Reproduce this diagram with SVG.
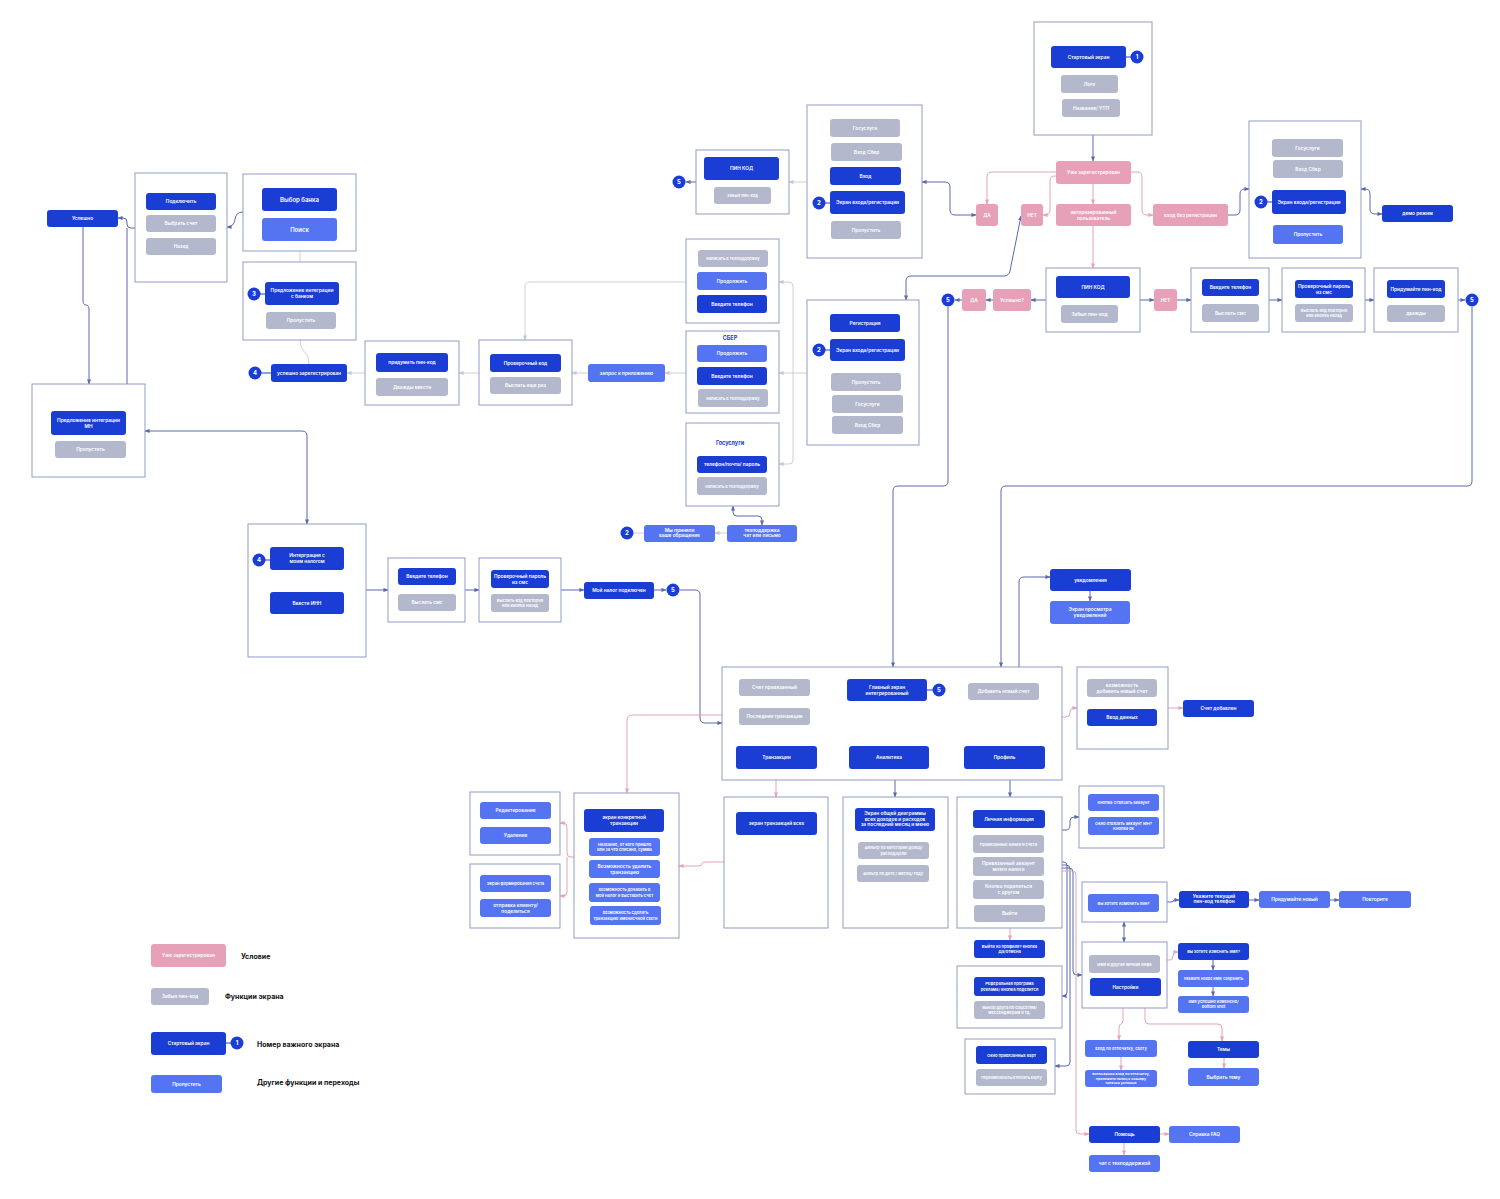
<svg xmlns="http://www.w3.org/2000/svg" width="1500" height="1199" viewBox="0 0 1500 1199">
<style>
.f{fill:#fff;stroke:#939bc6;stroke-width:1}
.d{fill:#1a3dd4}
.m{fill:#5474f2}
.g{fill:#b4b8cc}
.p{fill:#e6a0b8}
text{font-family:Inter,"Noto Sans",sans-serif;font-size:4.8px;fill:#fff;text-anchor:middle;font-weight:600}
.s{font-size:4.1px}
.b{font-size:6px}
.lg{fill:#111;font-size:7px;text-anchor:start;font-weight:700}
.h{fill:#1a3dd4;font-size:5.5px;font-weight:700}
.c{fill:none;stroke:#5a69ad;stroke-width:1}
.cp{fill:none;stroke:#e4a3b8;stroke-width:1}
.cl{fill:none;stroke:#cdd0db;stroke-width:1}
.k{stroke:#1a3dd4;stroke-width:1}
.n{font-size:6px;font-weight:700}
</style>
<defs>
<marker id="ab" viewBox="0 0 6 6" refX="5.5" refY="3" markerWidth="5" markerHeight="5" orient="auto-start-reverse"><path d="M0,0.5 L6,3 L0,5.5z" fill="#5a69ad"/></marker>
<marker id="ap" viewBox="0 0 6 6" refX="5.5" refY="3" markerWidth="5" markerHeight="5" orient="auto-start-reverse"><path d="M0,0.5 L6,3 L0,5.5z" fill="#e4a3b8"/></marker>
<marker id="al" viewBox="0 0 6 6" refX="5.5" refY="3" markerWidth="5" markerHeight="5" orient="auto-start-reverse"><path d="M0,0.5 L6,3 L0,5.5z" fill="#c4c8d6"/></marker>
</defs>

<g id="connectors">
<path class="c" d="M1093,135 V161" marker-end="url(#ab)"/>
<path class="cp" d="M1056,172 H992 Q987,172 987,177 V204" marker-end="url(#ap)"/>
<path class="cp" d="M1056,176 H1055 Q1050,176 1050,181 V210 Q1050,215 1045,215 H1043" marker-end="url(#ap)"/>
<path class="cp" d="M1093,184 V204" marker-end="url(#ap)"/>
<path class="cp" d="M1131,172 H1137 Q1142,172 1142,177 V210 Q1142,215 1147,215 H1153" marker-end="url(#ap)"/>
<path class="cp" d="M1093,226 V268" marker-end="url(#ap)"/>
<path class="c" d="M1228,215 H1235 Q1240,215 1240,210 V194 Q1240,189 1245,189 H1249" marker-end="url(#ab)"/>
<path class="c" d="M1361,189 H1365 Q1370,189 1370,194 V209 Q1370,214 1375,214 H1382" marker-end="url(#ab)" marker-start="url(#ab)"/>
<path class="c" d="M1046,300 H1031" marker-end="url(#ab)"/>
<path class="c" d="M993,300 H986" marker-end="url(#ab)"/>
<path class="c" d="M962,300 H955" marker-end="url(#ab)"/>
<path class="c" d="M1140,300 H1154" marker-end="url(#ab)"/>
<path class="c" d="M1177,300 H1191" marker-end="url(#ab)"/>
<path class="c" d="M1269,300 H1282" marker-end="url(#ab)"/>
<path class="c" d="M1365,300 H1374" marker-end="url(#ab)"/>
<path class="c" d="M1458,300 H1465" marker-end="url(#ab)"/>
<path class="c" d="M1472,307 V481 Q1472,486 1467,486 H1006 Q1001,486 1001,491 V667" marker-end="url(#ab)"/>
<path class="c" d="M948,307 V481 Q948,486 943,486 H898 Q893,486 893,491 V667" marker-end="url(#ab)"/>
<path class="c" d="M1021,216 L1010,271 Q1009,276 1004,276 H911 Q906,276 906,281 V300" marker-end="url(#ab)" marker-start="url(#ab)"/>
<path class="c" d="M976,215 H955 Q950,215 950,210 V187 Q950,182 945,182 H922" marker-end="url(#ab)" marker-start="url(#ab)"/>
<path class="cl" d="M807,182 H789" marker-end="url(#al)"/>
<path class="c" d="M696,182 H686" marker-end="url(#ab)"/>
<path class="cl" d="M807,373 H779" marker-end="url(#al)"/>
<path class="cl" d="M793,286 V460"/>
<path class="cl" d="M793,286 Q793,282 789,282 H779" marker-end="url(#al)"/>
<path class="cl" d="M793,460 Q793,464 789,464 H779" marker-end="url(#al)"/>
<path class="cl" d="M686,373 H665" marker-end="url(#al)"/>
<path class="cl" d="M588,373 H572" marker-end="url(#al)"/>
<path class="cl" d="M686,282 H530 Q525,282 525,287 V340" marker-end="url(#al)"/>
<path class="cl" d="M479,373 H459" marker-end="url(#al)"/>
<path class="cl" d="M365,373 H347" marker-end="url(#al)"/>
<path class="cl" d="M309,364 C309,351 300,353 300,340"/>
<path class="cl" d="M300,262 V251"/>
<path class="c" d="M243,212 Q236,212 235,219 Q234,227 227,227" marker-end="url(#ab)"/>
<path class="c" d="M135,228 H131 Q127,228 127,224 V222 Q127,218 123,218 H118" marker-end="url(#ab)"/>
<path class="c" d="M127,228 V393" marker-end="url(#ab)"/>
<path class="c" d="M83,227 V300 Q83,305 86,305 Q89,305 89,310 V384" marker-end="url(#ab)"/>
<path class="c" d="M145,431 H302 Q307,431 307,436 V524" marker-end="url(#ab)" marker-start="url(#ab)"/>
<path class="c" d="M366,590 H388" marker-end="url(#ab)"/>
<path class="c" d="M465,590 H479" marker-end="url(#ab)"/>
<path class="c" d="M561,590 H584" marker-end="url(#ab)"/>
<path class="c" d="M654,590 H666" marker-end="url(#ab)"/>
<path class="c" d="M680,590 H695 Q700,590 700,595 V718 Q700,723 705,723 H722" marker-end="url(#ab)"/>
<path class="cp" d="M722,715 H632 Q627,715 627,720 V793" marker-end="url(#ap)"/>
<path class="c" d="M1019,667 V582 Q1019,577 1024,577 H1050" marker-end="url(#ab)"/>
<path class="c" d="M1090,591 V601" marker-end="url(#ab)"/>
<path class="cp" d="M1062,717 H1066 Q1070,717 1070,713 Q1070,708 1074,708 H1077" marker-end="url(#ap)"/>
<path class="cp" d="M1168,708 H1183" marker-end="url(#ap)"/>
<path class="cp" d="M776,780 V797" marker-end="url(#ap)"/>
<path class="c" d="M895,780 V797" marker-end="url(#ab)"/>
<path class="c" d="M1010,780 V797" marker-end="url(#ab)"/>
<path class="cp" d="M724,862 H706 Q702,862 702,864 Q702,866 698,866 H679" marker-end="url(#ap)"/>
<path class="cp" d="M574,857 H571 Q567,857 567,853 V827 Q567,823 563,823 H560" marker-end="url(#ap)"/>
<path class="cp" d="M567,857 V892 Q567,896 563,896 H560" marker-end="url(#ap)"/>
<path class="c" d="M1062,830 H1066 Q1070,830 1070,825 V821 Q1070,817 1074,817 H1079" marker-end="url(#ab)"/>
<path class="cp" d="M1010,928 V940" marker-end="url(#ap)"/>
<path class="c" d="M1062,862 H1064 Q1067,862 1067,866 V992 Q1067,996 1063,996 H1062" marker-end="url(#ab)"/>
<path class="c" d="M1062,865 H1066 Q1070,865 1070,869 V1062 Q1070,1066 1066,1066 H1055" marker-end="url(#ab)"/>
<path class="c" d="M1062,868 H1069 Q1073,868 1073,872 V971 Q1073,975 1077,975 H1082" marker-end="url(#ab)"/>
<path class="cp" d="M1062,871 H1072 Q1076,871 1076,875 V1130 Q1076,1134 1080,1134 H1089" marker-end="url(#ap)"/>
<path class="c" d="M1124,942 V922" marker-end="url(#ab)" marker-start="url(#ab)"/>
<path class="c" d="M1167,902 H1171 Q1174,902 1174,900 H1179" marker-end="url(#ab)"/>
<path class="c" d="M1249,900 H1259" marker-end="url(#ab)"/>
<path class="c" d="M1330,900 H1339" marker-end="url(#ab)"/>
<path class="cp" d="M1167,960 H1170 Q1173,960 1173,956 Q1173,952 1177,952 H1178" marker-end="url(#ap)"/>
<path class="c" d="M1213,960 V970" marker-end="url(#ab)"/>
<path class="c" d="M1213,987 V996" marker-end="url(#ab)"/>
<path class="cp" d="M1123,1008 V1020 Q1123,1024 1121,1024 Q1119,1024 1119,1028 V1040" marker-end="url(#ap)"/>
<path class="cp" d="M1145,1008 V1020 Q1145,1024 1149,1024 H1218 Q1222,1024 1222,1028 V1041" marker-end="url(#ap)"/>
<path class="cp" d="M1121,1057 V1070" marker-end="url(#ap)"/>
<path class="cp" d="M1224,1058 V1068" marker-end="url(#ap)"/>
<path class="cp" d="M1160,1134 H1169" marker-end="url(#ap)"/>
<path class="cp" d="M1124,1143 V1155" marker-end="url(#ap)"/>
<path class="c" d="M733,506 V512 Q733,516 737,516 H758 Q762,516 762,520 V525" marker-end="url(#ab)" marker-start="url(#ab)"/>
<path class="cl" d="M727,533 H715" marker-end="url(#al)"/>
<path class="cl" d="M644,533 H634"/>
</g>

<g id="start-screen">
<rect class="f" x="1034" y="22" width="118" height="113"/>
<rect class="d" x="1051" y="46" width="75" height="22" rx="3"/><text x="1088.5" y="58.8">Стартовый экран</text>
<rect class="g" x="1061" y="75" width="57" height="18" rx="3"/><text x="1089.5" y="85.8">Лого</text>
<rect class="g" x="1062" y="99" width="58" height="18" rx="3"/><text x="1091" y="109.8">Название/ УТП</text>
<line class="k" x1="1126" y1="57" x2="1131" y2="57"/><circle class="d" cx="1137" cy="57" r="6.5"/><text class="n" x="1137" y="59.2">1</text>
</g>
<g id="cond-registered"><rect class="p" x="1056" y="161" width="75" height="23" rx="3"/><text x="1093.5" y="174.3">Уже зарегистрирован</text></g>
<g id="cond-yes-top"><rect class="p" x="976" y="204" width="22" height="22" rx="3"/><text x="987" y="216.8">ДА</text></g>
<g id="cond-no-top"><rect class="p" x="1021" y="204" width="22" height="22" rx="3"/><text x="1032" y="216.8">НЕТ</text></g>
<g id="cond-authorized"><rect class="p" x="1056" y="204" width="75" height="22" rx="3"/><text x="1093.5" y="213.6">авторизированный</text><text x="1093.5" y="219.6">пользователь</text></g>
<g id="cond-noreg"><rect class="p" x="1153" y="204" width="75" height="22" rx="3"/><text x="1190.5" y="216.8">вход без регистрации</text></g>

<g id="login-right">
<rect class="f" x="1249" y="121" width="112" height="137"/>
<rect class="g" x="1272" y="139" width="71" height="18" rx="3"/><text x="1307.5" y="149.8">Госуслуги</text>
<rect class="g" x="1273" y="160" width="70" height="18" rx="3"/><text x="1308" y="170.8">Вход Сбер</text>
<rect class="d" x="1272" y="190" width="74" height="24" rx="3"/><text x="1309" y="203.8">Экран входа/регистрации</text>
<line class="k" x1="1266" y1="202" x2="1272" y2="202"/><circle class="d" cx="1261" cy="202" r="6.5"/><text class="n" x="1261" y="204.2">2</text>
<rect class="m" x="1273" y="225" width="70" height="19" rx="3"/><text x="1308" y="236.3">Пропустить</text>
</g>
<g id="demo"><rect class="d" x="1382" y="205" width="71" height="17" rx="3"/><text x="1417.5" y="215.3">демо режим</text></g>

<g id="pin-right">
<rect class="f" x="1046" y="268" width="94" height="64"/>
<rect class="d" x="1056" y="276" width="74" height="22" rx="3"/><text x="1093" y="288.8">ПИН КОД</text>
<rect class="g" x="1061" y="305" width="57" height="18" rx="3"/><text x="1089.5" y="315.8">Забыл пин-код</text>
</g>
<g id="cond-success"><rect class="p" x="993" y="289" width="38" height="22" rx="3"/><text x="1012" y="301.8">Успешно?</text></g>
<g id="cond-yes-mid"><rect class="p" x="962" y="289" width="24" height="22" rx="3"/><text x="974" y="301.8">ДА</text></g>
<g id="badge5-a"><circle class="d" cx="948" cy="300" r="6.5"/><text class="n" x="948" y="302.2">5</text></g>
<g id="cond-no-mid"><rect class="p" x="1154" y="289" width="23" height="22" rx="3"/><text x="1165.5" y="301.8">НЕТ</text></g>
<g id="phone-right">
<rect class="f" x="1191" y="268" width="78" height="64"/>
<rect class="d" x="1202" y="279" width="57" height="17" rx="3"/><text x="1230.5" y="289.3">Введите телефон</text>
<rect class="g" x="1202" y="304" width="57" height="18" rx="3"/><text x="1230.5" y="314.8">Выслать смс</text>
</g>
<g id="sms-right">
<rect class="f" x="1282" y="268" width="83" height="64"/>
<rect class="d" x="1295" y="280" width="58" height="18" rx="3"/><text x="1324" y="287.8">Проверочный пароль</text><text x="1324" y="293.6">из смс</text>
<rect class="g" x="1295" y="304" width="58" height="18" rx="3"/><text class="s" x="1324" y="311.8">Выслать код повторно</text><text class="s" x="1324" y="317.2">или кнопка назад</text>
</g>
<g id="newpin-right">
<rect class="f" x="1374" y="268" width="84" height="64"/>
<rect class="d" x="1387" y="280" width="58" height="18" rx="3"/><text x="1416" y="290.8">Придумайте пин-код</text>
<rect class="g" x="1387" y="305" width="58" height="17" rx="3"/><text x="1416" y="315.3">дважды</text>
</g>
<g id="badge5-b"><circle class="d" cx="1472" cy="300" r="6.5"/><text class="n" x="1472" y="302.2">5</text></g>

<g id="login-mid">
<rect class="f" x="807" y="105" width="115" height="153"/>
<rect class="g" x="830" y="119" width="70" height="18" rx="3"/><text x="865" y="129.8">Госуслуги</text>
<rect class="g" x="831" y="143" width="71" height="18" rx="3"/><text x="866.5" y="153.8">Вход Сбер</text>
<rect class="d" x="830" y="167" width="71" height="18" rx="3"/><text x="865.5" y="177.8">Вход</text>
<rect class="d" x="830" y="191" width="75" height="23" rx="3"/><text x="867.5" y="204.3">Экран входа/регистрации</text>
<line class="k" x1="824" y1="203" x2="830" y2="203"/><circle class="d" cx="819" cy="203" r="6.5"/><text class="n" x="819" y="205.2">2</text>
<rect class="g" x="831" y="221" width="70" height="18" rx="3"/><text x="866" y="231.8">Пропустить</text>
</g>
<g id="pin-mid">
<rect class="f" x="696" y="150" width="93" height="64"/>
<rect class="d" x="704" y="157" width="75" height="23" rx="3"/><text x="741.5" y="170.3">ПИН КОД</text>
<rect class="g" x="714" y="187" width="57" height="17" rx="3"/><text class="s" x="742.5" y="197">Забыл пин-код</text>
</g>
<g id="badge5-c"><circle class="d" cx="679" cy="182" r="6.5"/><text class="n" x="679" y="184.2">5</text></g>

<g id="register">
<rect class="f" x="807" y="300" width="112" height="145"/>
<rect class="d" x="830" y="314" width="70" height="18" rx="3"/><text x="865" y="324.8">Регистрация</text>
<rect class="d" x="830" y="339" width="75" height="22" rx="3"/><text x="867.5" y="351.8">Экран входа/регистрации</text>
<line class="k" x1="824" y1="350" x2="830" y2="350"/><circle class="d" cx="819" cy="350" r="6.5"/><text class="n" x="819" y="352.2">2</text>
<rect class="g" x="831" y="373" width="70" height="18" rx="3"/><text x="866" y="383.8">Пропустить</text>
<rect class="g" x="832" y="395" width="71" height="18" rx="3"/><text x="867.5" y="405.8">Госуслуги</text>
<rect class="g" x="832" y="416" width="71" height="18" rx="3"/><text x="867.5" y="426.8">Вход Сбер</text>
</g>

<g id="reg-phone">
<rect class="f" x="686" y="239" width="93" height="84"/>
<rect class="g" x="698" y="250" width="70" height="17" rx="3"/><text class="s" x="733" y="260">написать в техподдержку</text>
<rect class="m" x="697" y="272" width="70" height="18" rx="3"/><text x="732" y="282.8">Продолжить</text>
<rect class="d" x="697" y="295" width="70" height="18" rx="3"/><text x="732" y="305.8">Введите телефон</text>
</g>
<g id="reg-sber">
<rect class="f" x="686" y="331" width="93" height="82"/>
<text class="h" x="730" y="340">СБЕР</text>
<rect class="m" x="697" y="345" width="70" height="17" rx="3"/><text x="732" y="355.3">Продолжить</text>
<rect class="d" x="697" y="367" width="70" height="18" rx="3"/><text x="732" y="377.8">Введите телефон</text>
<rect class="g" x="698" y="389" width="70" height="18" rx="3"/><text class="s" x="733" y="399.5">написать в техподдержку</text>
</g>
<g id="reg-gosuslugi">
<rect class="f" x="686" y="423" width="93" height="83"/>
<text class="h" x="730" y="445">Госуслуги</text>
<rect class="d" x="697" y="456" width="70" height="17" rx="3"/><text x="732" y="466.3">телефон/почта/ пароль</text>
<rect class="g" x="697" y="477" width="70" height="18" rx="3"/><text class="s" x="732" y="487.5">написать в техподдержку</text>
</g>
<g id="support-accepted">
<circle class="d" cx="627" cy="533" r="6.5"/><text class="n" x="627" y="535.2">2</text>
<rect class="m" x="644" y="525" width="71" height="17" rx="3"/><text x="679.5" y="531.5">Мы приняли</text><text x="679.5" y="537.3">ваше обращение</text>
</g>
<g id="support"><rect class="m" x="727" y="525" width="70" height="17" rx="3"/><text x="762" y="531.5">техподдержка</text><text x="762" y="537.3">чат или письмо</text></g>

<g id="app-request"><rect class="m" x="588" y="364" width="77" height="18" rx="3"/><text x="626.5" y="374.8">запрос к приложению</text></g>
<g id="check-code">
<rect class="f" x="479" y="340" width="93" height="65"/>
<rect class="d" x="490" y="354" width="71" height="18" rx="3"/><text x="525.5" y="364.8">Проверочный код</text>
<rect class="g" x="490" y="377" width="71" height="17" rx="3"/><text x="525.5" y="387.3">Выслать еще раз</text>
</g>
<g id="create-pin">
<rect class="f" x="365" y="341" width="94" height="64"/>
<rect class="d" x="376" y="353" width="72" height="19" rx="3"/><text x="412" y="364.3">придумать пин-код</text>
<rect class="g" x="376" y="378" width="72" height="18" rx="3"/><text x="412" y="388.8">Дважды ввести</text>
</g>
<g id="registered-ok">
<rect class="d" x="271" y="364" width="76" height="18" rx="3"/><text x="309" y="374.8">успешно зарегистрирован</text>
<line class="k" x1="261" y1="373" x2="271" y2="373"/><circle class="d" cx="255" cy="373" r="6.5"/><text class="n" x="255" y="375.2">4</text>
</g>
<g id="bank-offer">
<rect class="f" x="243" y="262" width="113" height="78"/>
<rect class="d" x="265" y="282" width="74" height="23" rx="3"/><text x="302" y="292">Предложение интеграции</text><text x="302" y="298">с банком</text>
<line class="k" x1="260" y1="294" x2="265" y2="294"/><circle class="d" cx="254" cy="294" r="6.5"/><text class="n" x="254" y="296.2">3</text>
<rect class="g" x="266" y="312" width="70" height="17" rx="3"/><text x="301" y="322.3">Пропустить</text>
</g>
<g id="bank-choice">
<rect class="f" x="243" y="174" width="113" height="77"/>
<rect class="d" x="262" y="188" width="75" height="23" rx="3"/><text class="b" x="299.5" y="201.6">Выбор банка</text>
<rect class="m" x="262" y="218" width="75" height="23" rx="3"/><text class="b" x="299.5" y="231.6">Поиск</text>
</g>
<g id="connect">
<rect class="f" x="135" y="173" width="92" height="109"/>
<rect class="d" x="146" y="193" width="70" height="17" rx="3"/><text x="181" y="203.3">Подключить</text>
<rect class="g" x="146" y="215" width="70" height="17" rx="3"/><text x="181" y="225.3">Выбрать счет</text>
<rect class="g" x="146" y="238" width="70" height="17" rx="3"/><text x="181" y="248.3">Назад</text>
</g>
<g id="success-left"><rect class="d" x="47" y="210" width="71" height="17" rx="3"/><text x="82.5" y="220.3">Успешно</text></g>
<g id="mn-offer">
<rect class="f" x="32" y="384" width="113" height="93"/>
<rect class="d" x="51" y="411" width="75" height="24" rx="3"/><text x="88.5" y="421.5">Предложение интеграции</text><text x="88.5" y="427.5">МН</text>
<rect class="g" x="55" y="441" width="71" height="17" rx="3"/><text x="90.5" y="451.3">Пропустить</text>
</g>

<g id="tax-integration">
<rect class="f" x="248" y="524" width="118" height="133"/>
<rect class="d" x="270" y="547" width="74" height="23" rx="3"/><text x="307" y="557">Интерграция с</text><text x="307" y="563">моим налогом</text>
<line class="k" x1="265" y1="560" x2="270" y2="560"/><circle class="d" cx="259" cy="560" r="6.5"/><text class="n" x="259" y="562.2">4</text>
<rect class="d" x="270" y="592" width="74" height="22" rx="3"/><text x="307" y="604.8">Ввести ИНН</text>
</g>
<g id="tax-phone">
<rect class="f" x="388" y="558" width="77" height="64"/>
<rect class="d" x="398" y="568" width="58" height="17" rx="3"/><text x="427" y="578.3">Введите телефон</text>
<rect class="g" x="398" y="594" width="58" height="17" rx="3"/><text x="427" y="604.3">Выслать смс</text>
</g>
<g id="tax-sms">
<rect class="f" x="479" y="558" width="82" height="64"/>
<rect class="d" x="491" y="570" width="58" height="18" rx="3"/><text x="520" y="577.8">Проверочный пароль</text><text x="520" y="583.6">из смс</text>
<rect class="g" x="491" y="594" width="58" height="18" rx="3"/><text class="s" x="520" y="601.8">Выслать код повторно</text><text class="s" x="520" y="607.2">или кнопка назад</text>
</g>
<g id="tax-connected">
<rect class="d" x="584" y="582" width="70" height="17" rx="3"/><text x="619" y="592.3">Мой налог подключен</text>
<circle class="d" cx="673" cy="590" r="6.5"/><text class="n" x="673" y="592.2">5</text>
</g>

<g id="notifications"><rect class="d" x="1050" y="569" width="81" height="22" rx="3"/><text x="1090.5" y="581.8">уведомления</text></g>
<g id="notif-view"><rect class="m" x="1050" y="601" width="80" height="23" rx="3"/><text x="1090" y="611">Экран просмотра</text><text x="1090" y="617">уведомлений</text></g>

<g id="main-screen">
<rect class="f" x="722" y="667" width="340" height="113"/>
<rect class="g" x="739" y="679" width="71" height="17" rx="3"/><text x="774.5" y="689.3">Счет привязанный</text>
<rect class="g" x="739" y="708" width="71" height="17" rx="3"/><text x="774.5" y="718.3">Последние транзакции</text>
<rect class="d" x="847" y="679" width="80" height="22" rx="3"/><text x="887" y="688.6">Главный экран</text><text x="887" y="694.6">интегрированный</text>
<line class="k" x1="927" y1="690" x2="933" y2="690"/><circle class="d" cx="939" cy="690" r="6.5"/><text class="n" x="939" y="692.2">5</text>
<rect class="g" x="968" y="683" width="71" height="17" rx="3"/><text x="1003.5" y="693.3">Добавить новый счет</text>
<rect class="d" x="736" y="746" width="81" height="23" rx="3"/><text x="776.5" y="759.3">Транзакции</text>
<rect class="d" x="849" y="746" width="80" height="23" rx="3"/><text x="889" y="759.3">Аналитика</text>
<rect class="d" x="964" y="746" width="81" height="23" rx="3"/><text x="1004.5" y="759.3">Профиль</text>
</g>
<g id="add-account">
<rect class="f" x="1077" y="667" width="91" height="82"/>
<rect class="g" x="1087" y="679" width="70" height="18" rx="3"/><text x="1122" y="686.8">возможность</text><text x="1122" y="692.6">добавить новый счет</text>
<rect class="d" x="1087" y="709" width="70" height="17" rx="3"/><text x="1122" y="719.3">Ввод данных</text>
</g>
<g id="account-added"><rect class="d" x="1183" y="700" width="71" height="17" rx="3"/><text x="1218.5" y="710.3">Счет добавлен</text></g>

<g id="all-transactions">
<rect class="f" x="724" y="797" width="104" height="131"/>
<rect class="d" x="736" y="812" width="81" height="23" rx="3"/><text x="776.5" y="825.3">экран  транзакций всех</text>
</g>
<g id="analytics">
<rect class="f" x="843" y="797" width="105" height="131"/>
<rect class="d" x="855" y="808" width="80" height="23" rx="3"/><text x="895" y="815">Экран общей диаграммы</text><text x="895" y="820.6">всех доходов и расходов</text><text x="895" y="826.2">за последний месяц и меню</text>
<rect class="g" x="858" y="842" width="71" height="17" rx="3"/><text class="s" x="893.5" y="849.4">Фильтр по категории доход/</text><text class="s" x="893.5" y="854.6">расход/цели</text>
<rect class="g" x="857" y="865" width="72" height="17" rx="3"/><text class="s" x="893" y="875">Фильтр по дате / месяц/ году</text>
</g>
<g id="profile">
<rect class="f" x="957" y="797" width="105" height="131"/>
<rect class="d" x="973" y="810" width="72" height="18" rx="3"/><text x="1009" y="820.8">Личная информация</text>
<rect class="g" x="973" y="835" width="71" height="18" rx="3"/><text class="s" x="1008.5" y="845.5">Привязанные банки и счета</text>
<rect class="g" x="973" y="857" width="71" height="19" rx="3"/><text x="1008.5" y="865">Привязанный аккаунт</text><text x="1008.5" y="870.8">моего налога</text>
<rect class="g" x="973" y="880" width="71" height="19" rx="3"/><text x="1008.5" y="888">Кнопка поделиться</text><text x="1008.5" y="893.8">с другом</text>
<rect class="g" x="974" y="905" width="71" height="17" rx="3"/><text x="1009.5" y="915.3">Выйти</text>
</g>

<g id="transaction">
<rect class="f" x="574" y="793" width="105" height="145"/>
<rect class="d" x="584" y="809" width="80" height="23" rx="3"/><text x="624" y="819">экран  конкретной</text><text x="624" y="825">транзакции</text>
<rect class="m" x="589" y="838" width="71" height="18" rx="3"/><text class="s" x="624.5" y="845.8">Название, от кого пришло</text><text class="s" x="624.5" y="851.2">или за что списано, сумма</text>
<rect class="m" x="589" y="860" width="71" height="18" rx="3"/><text x="624.5" y="867.8">Возможность удалить</text><text x="624.5" y="873.6">транзакцию</text>
<rect class="m" x="589" y="883" width="71" height="19" rx="3"/><text class="s" x="624.5" y="891.3">возможность добавить в</text><text class="s" x="624.5" y="896.7">мой налог и выставить счет</text>
<rect class="m" x="590" y="906" width="71" height="19" rx="3"/><text class="s" x="625.5" y="914.3">возможность сделать</text><text class="s" x="625.5" y="919.7">транзакцию именисчной свеги</text>
</g>
<g id="edit-delete">
<rect class="f" x="470" y="792" width="90" height="63"/>
<rect class="m" x="480" y="802" width="71" height="17" rx="3"/><text x="515.5" y="812.3">Редактирование</text>
<rect class="m" x="480" y="827" width="71" height="17" rx="3"/><text x="515.5" y="837.3">Удаление</text>
</g>
<g id="invoice">
<rect class="f" x="470" y="864" width="90" height="64"/>
<rect class="m" x="480" y="875" width="71" height="17" rx="3"/><text class="s" x="515.5" y="885">Экран формирования счета</text>
<rect class="m" x="480" y="899" width="71" height="18" rx="3"/><text x="515.5" y="906.8">отправка клиенту/</text><text x="515.5" y="912.6">поделиться</text>
</g>

<g id="unlink">
<rect class="f" x="1079" y="786" width="85" height="62"/>
<rect class="m" x="1088" y="794" width="71" height="17" rx="3"/><text class="s" x="1123.5" y="804">Кнопка Отвязать аккаунт</text>
<rect class="m" x="1088" y="817" width="71" height="18" rx="3"/><text class="s" x="1123.5" y="824.8">Окно отвязать аккаунт МН?</text><text class="s" x="1123.5" y="830.2">Кнопка ок</text>
</g>
<g id="change-pin">
<rect class="f" x="1082" y="882" width="85" height="40"/>
<rect class="m" x="1088" y="894" width="71" height="18" rx="3"/><text class="s" x="1123.5" y="904.5">Вы хотите изменить пин?</text>
</g>
<g id="current-pin"><rect class="d" x="1179" y="891" width="70" height="17" rx="3"/><text x="1214" y="897.5">Укажите текущий</text><text x="1214" y="903.3">пин-код телефон</text></g>
<g id="new-pin"><rect class="m" x="1259" y="891" width="71" height="17" rx="3"/><text x="1294.5" y="901.3">Придумайте новый</text></g>
<g id="repeat-pin"><rect class="m" x="1339" y="891" width="72" height="17" rx="3"/><text x="1375" y="901.3">Повторите</text></g>

<g id="personal">
<rect class="f" x="1082" y="942" width="85" height="66"/>
<rect class="g" x="1089" y="955" width="71" height="18" rx="3"/><text class="s" x="1124.5" y="965.5">Имя и другая личная инфа</text>
<rect class="d" x="1090" y="978" width="71" height="18" rx="3"/><text x="1125.5" y="988.8">Настройки</text>
</g>
<g id="change-name"><rect class="d" x="1178" y="943" width="71" height="17" rx="3"/><text class="s" x="1213.5" y="953">Вы хотите изменить имя?</text></g>
<g id="new-name"><rect class="m" x="1178" y="970" width="71" height="17" rx="3"/><text class="s" x="1213.5" y="980" style="font-size:3.8px">Укажите новое имя/ сохранить</text></g>
<g id="name-changed"><rect class="m" x="1178" y="996" width="71" height="17" rx="3"/><text class="s" x="1213.5" y="1002.8">имя успешно изменено/</text><text class="s" x="1213.5" y="1008.2">bottom shet</text></g>

<g id="logout-confirm"><rect class="d" x="974" y="940" width="71" height="18" rx="3"/><text class="s" x="1009.5" y="947.8">Выйти из профиля? кнопка</text><text class="s" x="1009.5" y="953.2">Да/отмена</text></g>
<g id="referral">
<rect class="f" x="957" y="966" width="105" height="62"/>
<rect class="d" x="974" y="977" width="71" height="19" rx="3"/><text class="s" x="1009.5" y="985.3">Реферальная програма</text><text class="s" x="1009.5" y="990.7">реклама/ кнопка поделится</text>
<rect class="g" x="974" y="1001" width="71" height="18" rx="3"/><text class="s" x="1009.5" y="1008.8">Выбор друга по соцсетям/</text><text class="s" x="1009.5" y="1014.2">мессенджерам и тд.</text>
</g>
<g id="cards">
<rect class="f" x="965" y="1039" width="90" height="55"/>
<rect class="d" x="976" y="1046" width="71" height="18" rx="3"/><text class="s" x="1011.5" y="1056.5">Окно привязанных карт</text>
<rect class="g" x="976" y="1069" width="71" height="17" rx="3"/><text class="s" x="1011.5" y="1079" style="font-size:3.8px">Переименовать/отвязать карту</text>
</g>
<g id="fingerprint"><rect class="m" x="1085" y="1040" width="72" height="17" rx="3"/><text class="s" x="1121" y="1050">вход по отпечатку, свету</text></g>
<g id="fingerprint-popup"><rect class="m" x="1085" y="1070" width="72" height="17" rx="3"/><text class="s" x="1121" y="1074.8" style="font-size:3.6px">всплывашка вход по отпечатку,</text><text class="s" x="1121" y="1079.6" style="font-size:3.6px">приложите палец к сканеру</text><text class="s" x="1121" y="1084.4" style="font-size:3.6px">галочка успешно</text></g>
<g id="themes"><rect class="d" x="1188" y="1041" width="71" height="17" rx="3"/><text x="1223.5" y="1051.3">Темы</text></g>
<g id="choose-theme"><rect class="m" x="1188" y="1068" width="71" height="18" rx="3"/><text x="1223.5" y="1078.8">Выбрать тему</text></g>
<g id="help"><rect class="d" x="1089" y="1126" width="71" height="17" rx="3"/><text x="1124.5" y="1136.3">Помощь</text></g>
<g id="faq"><rect class="m" x="1169" y="1126" width="71" height="17" rx="3"/><text x="1204.5" y="1136.3">Справка FAQ</text></g>
<g id="support-chat"><rect class="m" x="1089" y="1155" width="71" height="17" rx="3"/><text x="1124.5" y="1165.3">чат с техподдержкой</text></g>

<g id="legend">
<rect class="p" x="151" y="944" width="75" height="23" rx="3"/><text x="188.5" y="957.3">Уже зарегистрирован</text>
<text class="lg" x="241" y="959">Условие</text>
<rect class="g" x="151" y="988" width="58" height="17" rx="3"/><text x="180" y="998.3">Забыл пин-код</text>
<text class="lg" x="225" y="999">Функции экрана</text>
<rect class="d" x="151" y="1032" width="75" height="23" rx="3"/><text x="188.5" y="1045.3">Стартовый экран</text>
<line class="k" x1="226" y1="1043" x2="231" y2="1043"/><circle class="d" cx="237" cy="1043" r="6.5"/><text class="n" x="237" y="1045.2">1</text>
<text class="lg" x="257" y="1047">Номер важного экрана</text>
<rect class="m" x="151" y="1075" width="71" height="18" rx="3"/><text x="186.5" y="1085.8">Пропустить</text>
<text class="lg" x="257" y="1085">Другие функции и переходы</text>
</g>
</svg>
